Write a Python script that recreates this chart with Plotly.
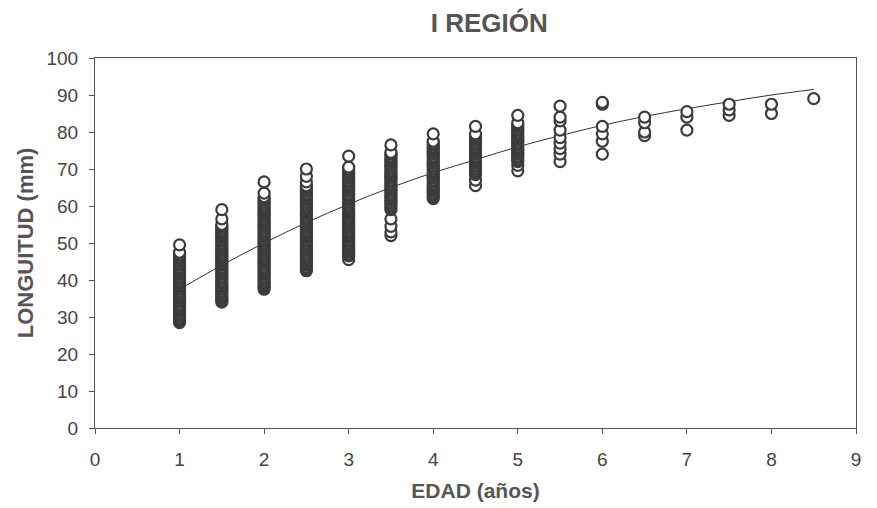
import plotly.graph_objects as go

# ---- data ----
ages = [1, 1.5, 2, 2.5, 3, 3.5, 4, 4.5, 5, 5.5, 6, 6.5, 7, 7.5, 8, 8.5]

len_1 = [28.5, 29, 29.5, 30, 30.5, 31, 31.5, 32, 32.5, 33, 33.5, 34, 34.5, 35, 35.5, 36,
         36.5, 37, 37.5, 38, 38.5, 39, 39.5, 40, 40.5, 41, 41.5, 42, 42.5, 43, 43.5, 44,
         44.5, 45, 45.5, 46, 46.5, 47, 47.5, 49.5]
len_1_5 = [34, 34.5, 35, 35.5, 36, 36.5, 37, 37.5, 38, 38.5, 39, 39.5, 40, 40.5, 41, 41.5,
           42, 42.5, 43, 43.5, 44, 44.5, 45, 45.5, 46, 46.5, 47, 47.5, 48, 48.5, 49, 49.5,
           50, 50.5, 51, 51.5, 52, 52.5, 53, 53.5, 54, 54.5, 55, 56.5, 59]
len_2 = [37.5, 38, 38.5, 39, 39.5, 40, 40.5, 41, 41.5, 42, 42.5, 43, 43.5, 44, 44.5, 45,
         45.5, 46, 46.5, 47, 47.5, 48, 48.5, 49, 49.5, 50, 50.5, 51, 51.5, 52, 52.5, 53,
         53.5, 54, 54.5, 55, 55.5, 56, 56.5, 57, 57.5, 58, 58.5, 59, 59.5, 60, 60.5, 61,
         61.5, 62, 62.5, 63.5, 66.5]
len_2_5 = [42.5, 43, 43.5, 44, 44.5, 45, 45.5, 46, 46.5, 47, 47.5, 48, 48.5, 49, 49.5, 50,
           50.5, 51, 51.5, 52, 52.5, 53, 53.5, 54, 54.5, 55, 55.5, 56, 56.5, 57, 57.5, 58,
           58.5, 59, 59.5, 60, 60.5, 61, 61.5, 62, 62.5, 63, 63.5, 64, 64.5, 65, 65.5,
           66.5, 68, 70]
len_3 = [45.5, 46.5, 47, 47.5, 48, 48.5, 49, 49.5, 50, 50.5, 51, 51.5, 52, 52.5, 53, 53.5,
         54, 54.5, 55, 55.5, 56, 56.5, 57, 57.5, 58, 58.5, 59, 59.5, 60, 60.5, 61, 61.5,
         62, 62.5, 63, 63.5, 64, 64.5, 65, 65.5, 66, 66.5, 67, 67.5, 68, 68.5, 69, 69.5,
         70, 70.5, 73.5]
len_3_5 = [52, 53, 54.5, 56.5, 59, 59.5, 60, 60.5, 61, 61.5, 62, 62.5, 63, 63.5, 64, 64.5,
           65, 65.5, 66, 66.5, 67, 67.5, 68, 68.5, 69, 69.5, 70, 70.5, 71, 71.5, 72, 72.5,
           73, 73.5, 74, 74.5, 76.5]
len_4 = [62, 62.5, 63, 63.5, 64, 64.5, 65, 65.5, 66, 66.5, 67, 67.5, 68, 68.5, 69, 69.5,
         70, 70.5, 71, 71.5, 72, 72.5, 73, 73.5, 74, 74.5, 75, 75.5, 76, 76.5, 77, 77.5,
         79.5]
len_4_5 = [65.5, 67, 68.5, 69, 69.5, 70, 70.5, 71, 71.5, 72, 72.5, 73, 73.5, 74, 74.5, 75,
           75.5, 76, 76.5, 77, 77.5, 78, 78.5, 79, 79.5, 81.5]
len_5 = [69.5, 71, 72, 72.5, 73, 73.5, 74, 74.5, 75, 75.5, 76, 76.5, 77, 77.5, 78, 78.5,
         79, 79.5, 80, 80.5, 81, 81.5, 82, 82.5, 84.5]
len_5_5 = [72, 74, 75.5, 77, 78.5, 80.5, 83, 84, 87]
len_6 = [74, 77.5, 79.5, 81.5, 87.5, 88]
len_6_5 = [79, 80, 82.5, 84]
len_7 = [80.5, 84, 85.5]
len_7_5 = [84.5, 86, 87.5]
len_8 = [85, 87.5]
len_8_5 = [89]

groups = [len_1, len_1_5, len_2, len_2_5, len_3, len_3_5, len_4, len_4_5, len_5,
          len_5_5, len_6, len_6_5, len_7, len_7_5, len_8, len_8_5]

# fitted growth curve at each age
curve_len = [37.5, 44, 50, 55.5, 60.5, 65, 69, 72.5, 76, 79, 81.8, 84.2, 86.3, 88.2,
             90, 91.5]

x_pts, y_pts = [], []
for a, g in zip(ages, groups):
    for v in g:
        x_pts.append(a)
        y_pts.append(v)

fig = go.Figure()
fig.add_trace(go.Scatter(
    x=ages, y=curve_len, mode="lines",
    line=dict(color="#333333", width=1, shape="spline"),
    hoverinfo="skip", showlegend=False))
fig.add_trace(go.Scatter(
    x=x_pts, y=y_pts, mode="markers",
    marker=dict(symbol="circle", size=11, color="white",
                line=dict(color="#3b3b3b", width=2.2)),
    showlegend=False))

font_family = "Liberation Sans, Arial, sans-serif"
fig.update_layout(
    width=877, height=508,
    margin=dict(l=87, r=29, t=50, b=88),
    paper_bgcolor="white", plot_bgcolor="white",
    font=dict(family=font_family, color="#444444"),
    title=dict(text="<b>I REGIÓN</b>", x=0.518, xref="paper", xanchor="center",
               y=1 - 15 / 508, yref="container", yanchor="middle",
               font=dict(size=26, color="#555555", family=font_family)),
    xaxis=dict(range=[0, 9], dtick=1, tick0=0, showgrid=False, zeroline=False,
               showline=True, linecolor="#555555", linewidth=1, mirror=True,
               ticks="outside", ticklen=5, tickcolor="#555555",
               ticklabelstandoff=9,
               tickfont=dict(size=19, color="#444444"),
               title=dict(text="<b>EDAD (años)</b>", standoff=14,
                          font=dict(size=21, color="#555555"))),
    yaxis=dict(range=[0, 100], dtick=10, tick0=0, showgrid=False, zeroline=False,
               showline=True, linecolor="#555555", linewidth=1, mirror=True,
               ticks="outside", ticklen=5, tickcolor="#555555",
               ticklabelstandoff=7,
               tickfont=dict(size=19, color="#444444"),
               title=dict(text="<b>LONGUITUD (mm)</b>", standoff=6,
                          font=dict(size=22, color="#555555"))),
)

fig.write_html("out.html")
